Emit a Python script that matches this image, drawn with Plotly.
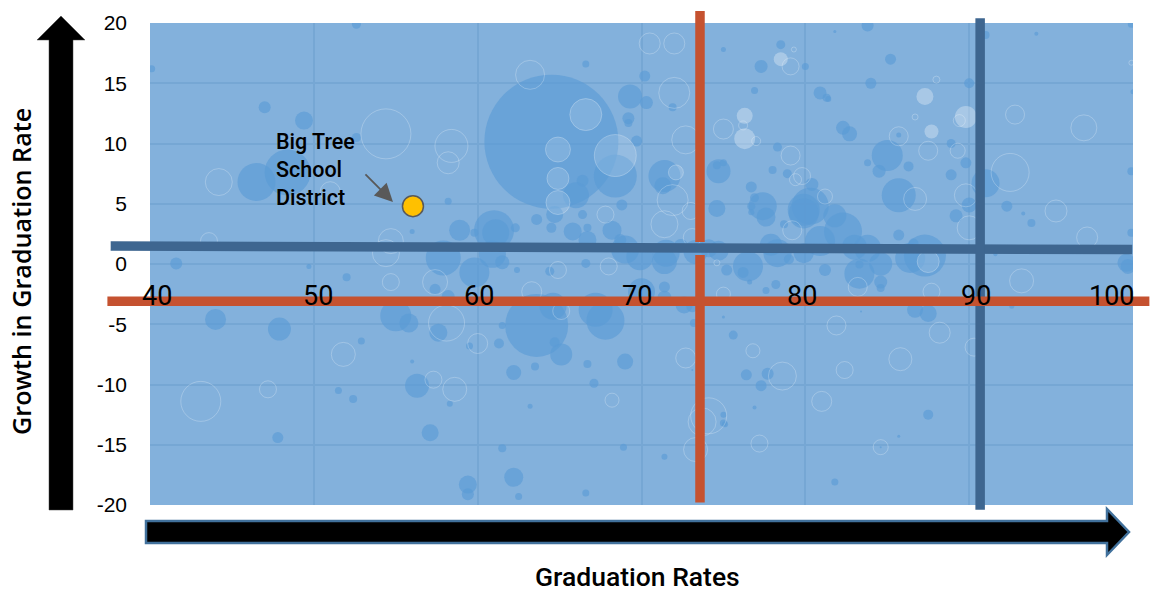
import plotly.graph_objects as go

# ---------- data: graduation rate, growth in graduation rate, enrolment (bubble) ----------
solid_x = [52.6,40.1,47.0,49.4,52.6,48.4,46.5,58.2,56.0,58.9,
           57.9,59.8,41.6,49.7,52.0,57.4,58.2,44.0,47.9,55.0,
           55.8,57.6,59.5,52.9,56.0,56.3,51.5,52.4,58.3,57.1,
           47.8,59.4,59.4,64.5,66.6,70.2,69.3,70.3,71.9,69.2,
           69.2,69.7,68.4,71.4,71.3,74.7,74.6,75.0,66.4,66.0,
           68.8,74.6,64.7,63.6,64.5,66.4,65.8,66.7,68.2,61.0,
           61.1,62.3,59.8,66.7,60.9,61.5,62.4,64.4,66.6,69.0,
           69.9,68.7,71.4,71.5,72.4,73.3,74.1,74.7,75.2,76.5,
           76.2,76.6,78.2,77.6,71.4,70.0,71.4,75.0,78.5,77.3,
           80.0,76.9,78.3,78.0,78.9,76.7,76.9,77.4,77.6,76.7,
           76.7,78.7,79.9,77.9,78.3,79.0,83.8,81.8,91.0,94.1,
           99.9,85.2,84.0,90.0,80.9,81.3,81.4,100.0,82.3,82.7,
           85.7,85.0,88.9,83.8,86.3,84.5,89.8,88.9,91.0,99.9,
           85.7,80.4,80.3,79.9,81.8,82.3,80.9,79.9,83.0,83.8,
           84.6,83.3,83.3,85.7,86.4,87.3,86.6,84.6,84.6,81.2,
           90.0,89.2,92.3,93.8,93.3,99.9,91.6,99.6,99.7,63.6,
           64.6,61.5,61.3,65.1,64.7,63.5,62.2,66.7,69.0,67.1,
           67.2,67.8,63.2,61.5,68.9,71.4,62.2,62.5,66.6,73.2,
           72.6,73.1,75.0,75.6,76.4,77.7,77.3,76.9,73.1,75.1,
           75.0,75.0,86.7,87.5,83.4,87.5,85.7,81.8,92.6,84.6]
solid_y = [19.9,16.2,13.0,11.9,10.5,7.6,6.8,5.2,2.7,2.8,
           0.5,-0.7,0.05,-0.2,-1.1,-2.1,-2.7,-4.6,-5.4,-4.3,
           -4.9,-5.7,-6.8,-6.4,-8.1,-10.1,-10.5,-11.2,-11.6,-14.0,
           -14.4,-18.3,-19.1,10.15,16.6,15.6,13.9,13.4,13.0,12.1,
           11.7,10.2,7.3,7.3,6.5,7.7,8.2,8.4,6.9,5.7,
           4.9,4.6,4.1,3.7,3.0,4.1,2.7,3.0,2.8,2.8,
           2.6,3.0,2.6,2.0,0.8,0.15,-0.5,-0.6,0.05,1.2,
           0.6,2.0,0.2,0.9,1.5,1.0,1.3,1.1,-0.5,-0.2,
           -0.7,-1.5,-1.7,-2.2,-1.9,-2.3,-2.8,17.8,18.2,16.4,
           16.4,14.4,9.7,7.8,7.5,6.4,5.5,4.8,3.9,4.8,
           4.3,3.3,4.5,1.6,0.9,0.4,19.8,19.3,19.0,19.1,
           19.9,17.0,15.0,15.0,14.2,13.8,13.7,14.3,11.3,10.8,
           10.7,9.0,10.0,8.4,8.1,7.7,8.4,7.4,6.7,7.7,
           5.7,6.6,4.8,4.2,4.0,2.7,1.9,0.9,1.4,1.3,
           0.0,-0.8,-0.05,2.4,0.5,0.7,1.7,-1.5,-2.0,-0.5,
           4.9,4.0,4.8,3.4,4.2,2.6,0.8,0.1,-0.2,-5.1,
           -3.5,-5.1,-6.6,-7.5,-6.5,-8.5,-9.0,-8.3,-8.1,-9.9,
           -3.8,-4.7,-11.8,-15.3,-15.2,-16.0,-17.7,-19.3,-19.0,-4.9,
           -3.4,-3.5,-4.4,-5.9,-9.2,-9.1,-10.1,-11.9,-8.8,-13.3,
           -12.5,-13.2,-3.8,-4.1,-3.95,-12.5,-14.3,-18.1,-3.5,-15.2]
solid_size = [9,7,12,18,9,46,38,7,5,21,
              35,30,12,5,8,11,13,21,23,31,
              19,18,7,7,4,24,7,8,6,17,
              11,18,12,134,7,11,24,13,8,12,
              8,11,43,32,17,24,8,7,12,26,
              11,17,17,11,10,9,18,8,19,40,
              27,9,8,18,27,14,6,9,9,28,
              27,12,25,27,14,24,18,20,11,30,
              11,5,9,7,11,27,14,5,9,13,
              7,7,9,8,9,11,9,28,19,8,
              6,8,32,22,28,10,12,3,8,4,
              7,11,11,10,13,8,6,5,14,15,
              5,31,9,7,10,13,11,11,28,8,
              34,13,37,30,23,38,30,20,25,27,
              23,30,8,11,30,42,10,13,8,12,
              15,13,11,8,4,8,4,18,15,63,
              27,7,10,22,10,8,15,8,16,9,
              34,38,5,8,7,6,19,7,7,8,
              17,12,3,9,11,12,11,4,2,6,
              6,7,16,17,2,10,3,7,5,2]

hollow_x = [54.4,58.4,58.2,44.2,51.0,43.6,54.7,54.4,54.7,57.4,
            58.1,60.0,51.8,57.3,58.6,47.2,43.1,63.2,70.5,72.0,
            72.0,72.7,75.0,76.2,77.0,79.1,79.4,79.8,71.9,71.4,
            73.0,67.8,73.1,79.2,64.9,68.0,63.3,74.6,75.0,79.3,
            79.1,88.0,86.7,85.7,87.5,89.3,89.4,92.8,97.0,92.5,
            89.8,86.7,81.2,95.3,90.0,97.2,93.2,87.7,83.2,99.9,
            65.1,72.7,76.8,78.6,68.2,74.1,73.7,73.3,77.2,81.9,
            88.2,85.8,82.4,90.3,81.0,84.6]
hollow_y = [10.8,9.8,8.4,6.8,6.0,1.9,1.9,0.9,-1.5,-1.5,
            -4.9,-6.6,-7.5,-9.6,-10.4,-10.4,-11.4,15.7,18.3,18.3,
            14.2,10.3,11.2,11.5,10.2,9.0,7.0,7.3,5.3,3.3,
            4.4,4.1,2.2,2.8,-0.5,-0.2,-2.3,0.1,-2.5,17.8,
            16.4,15.3,12.2,10.6,9.4,9.4,11.9,12.4,11.3,7.6,
            5.7,5.4,5.6,4.4,3.0,2.2,-1.4,-2.3,-1.9,16.7,
            -3.9,-7.8,-7.2,-9.3,-11.3,-12.6,-13.1,-15.4,-14.9,-5.1,
            -5.7,-7.9,-8.8,-6.9,-11.4,-15.2]
hollow_size = [50,33,22,27,20,17,25,27,17,25,
               36,20,24,17,24,17,40,29,21,21,
               31,28,20,9,9,19,12,17,31,27,
               17,17,18,19,17,17,20,6,14,5,
               17,7,6,19,19,15,12,19,26,38,
               23,23,15,22,24,21,24,17,19,5,
               17,20,14,28,14,36,28,24,17,19,
               21,23,17,18,20,15]

faint_x = [66.6,68.4,64.9,64.9,64.9,72.1,87.5]
faint_y = [12.4,9.0,9.5,7.1,5.1,7.6,0.2]
faint_size = [32,42,25,22,24,15,22]

bright_x = [76.3,76.3,78.5,87.3,87.7,89.8]
bright_y = [12.3,10.4,17.0,13.9,11.0,12.2]
bright_size = [16,21,14,17,14,22]

highlight_x = [56.05]
highlight_y = [4.8]

x_tick_labels = ["40","50","60","70","80","90","100"]
x_label_at = [40.4,50.26,60.1,69.7,79.8,90.4,98.7]
y_ticks = [20,15,10,5,0,-5,-10,-15,-20]
y_tick_labels = ["20","15","10","5","0","-5","-10","-15","-20"]

red_v_x = [73.57,73.57,None,73.57,73.57]
red_v_y = [21.0,1.83,None,0.75,-19.8]
red_h_x = [37.4,101.0]
red_h_y = [-3.1,-3.1]
blue_v_x = [90.67,90.67]
blue_v_y = [20.4,-20.4]
blue_h_x = [37.6,99.95]
blue_h_y = [1.5,1.2]

# ---------- layout geometry and styling ----------
PW, PH = 1150, 594
L, T, W, H = 150, 23, 983, 482
X0, X1, Y0, Y1 = 40, 100, -20, 20
BG, GRID = "#83b1dc", "#76a7d4"
RED, BLUE = "#c55230", "#3e6690"

def paper_path(points):
    return "M " + " L ".join(f"{px/PW:.5f} {1-py/PH:.5f}" for px, py in points) + " Z"

def bubbles(x, y, size, color, line):
    return go.Scatter(x=x, y=y, mode="markers", hoverinfo="skip",
                      marker=dict(size=size, sizemode="diameter", sizeref=1, opacity=1,
                                  color=color, line=line))

fig = go.Figure()
fig.add_trace(bubbles(solid_x, solid_y, solid_size, "rgba(91,155,213,0.65)", dict(width=0)))
fig.add_trace(bubbles(hollow_x, hollow_y, hollow_size, "rgba(255,255,255,0)",
                      dict(width=1, color="rgba(255,255,255,0.24)")))
fig.add_trace(bubbles(faint_x, faint_y, faint_size, "rgba(255,255,255,0.15)",
                      dict(width=1, color="rgba(255,255,255,0.25)")))
fig.add_trace(bubbles(bright_x, bright_y, bright_size, "rgba(255,255,255,0.3)", dict(width=0)))
fig.add_trace(go.Scatter(x=highlight_x, y=highlight_y, mode="markers", hoverinfo="skip",
    marker=dict(size=21, opacity=1, color="#ffc000", line=dict(width=1.5, color="#595959"))))

# the guide lines run past the plot area, so they sit on full-page axes with the same scale
for xs, ys, col in [(blue_h_x, blue_h_y, BLUE), (blue_v_x, blue_v_y, BLUE),
                    (red_v_x, red_v_y, RED), (red_h_x, red_h_y, RED)]:
    fig.add_trace(go.Scatter(x=xs, y=ys, xaxis="x2", yaxis="y2", mode="lines", hoverinfo="skip",
                             connectgaps=False, line=dict(color=col, width=9.5)))

shapes = [
    dict(type="rect", xref="paper", yref="paper", layer="below", line=dict(width=0), fillcolor=BG,
         x0=L/PW, x1=(L+W)/PW, y0=1-(T+H)/PH, y1=1-T/PH),
    dict(type="path", xref="paper", yref="paper", fillcolor="#000000", line=dict(width=0.5, color="#444444"),
         path=paper_path([(49,510),(49,40),(37,40),(61,16),(85,40),(73,40),(73,510)])),
    dict(type="path", xref="paper", yref="paper", fillcolor="#000000", line=dict(width=2.5, color="#41719c"),
         path=paper_path([(146,521),(1107,521),(1107,509),(1129,532),(1107,555),(1107,543),(146,543)])),
]

annotations = [
    dict(x=v, y=-2.66, text=t, showarrow=False, xanchor="center", yanchor="middle",
         font=dict(family="Roboto", size=27, color="#000000"))
    for t, v in zip(x_tick_labels, x_label_at)
]
annotations += [
    dict(x=47.58, y=7.85, xanchor="left", yanchor="middle", align="left", showarrow=False,
         text="Big Tree<br>School<br>District",
         font=dict(family="Roboto", size=21.5, color="#000000", weight=500)),
    dict(x=54.83, y=5.15, ax=-29, ay=-29, text="", showarrow=True, arrowhead=2, arrowsize=2,
         arrowwidth=1.8, arrowcolor="#595959"),
    dict(xref="paper", yref="paper", x=21/PW, y=1-272/PH, text="Growth in Graduation Rate",
         textangle=-90, showarrow=False, xanchor="center", yanchor="middle",
         font=dict(family="Open Sans", size=25.2, color="#000000", weight=600)),
    dict(xref="paper", yref="paper", x=637/PW, y=1-576.5/PH, text="Graduation Rates",
         showarrow=False, xanchor="center", yanchor="middle",
         font=dict(family="Roboto", size=26.5, color="#000000", weight=500)),
]

px_per_x, px_per_y = W/(X1-X0), H/(Y1-Y0)
fig.update_layout(
    width=PW, height=PH, showlegend=False,
    margin=dict(l=0, r=0, t=0, b=0, autoexpand=False),
    paper_bgcolor="#ffffff", plot_bgcolor="rgba(0,0,0,0)",
    shapes=shapes, annotations=annotations,
    xaxis=dict(domain=[L/PW, (L+W)/PW], range=[X0, X1], tickvals=[40,50,60,70,80,90,100],
               showticklabels=False, ticks="", anchor="y",
               showgrid=True, gridcolor=GRID, gridwidth=1.5, zeroline=False,
               showline=False),
    yaxis=dict(domain=[1-(T+H)/PH, 1-T/PH], range=[Y0, Y1], tickvals=y_ticks, ticktext=y_tick_labels,
               ticks="", ticklabelstandoff=22, anchor="x",
               tickfont=dict(family="Liberation Sans", size=21, color="#000000"),
               showgrid=True, gridcolor=GRID, gridwidth=1.5, zeroline=False,
               showline=False),
    xaxis2=dict(domain=[0, 1], range=[X0-L/px_per_x, X0+(PW-L)/px_per_x], visible=False, anchor="y2"),
    yaxis2=dict(domain=[0, 1], range=[Y1-(PH-T)/px_per_y, Y1+T/px_per_y], visible=False, anchor="x2"),
)

fig.write_html("out.html", config=dict(displayModeBar=False),
               post_script="document.body.style.margin='0';")
